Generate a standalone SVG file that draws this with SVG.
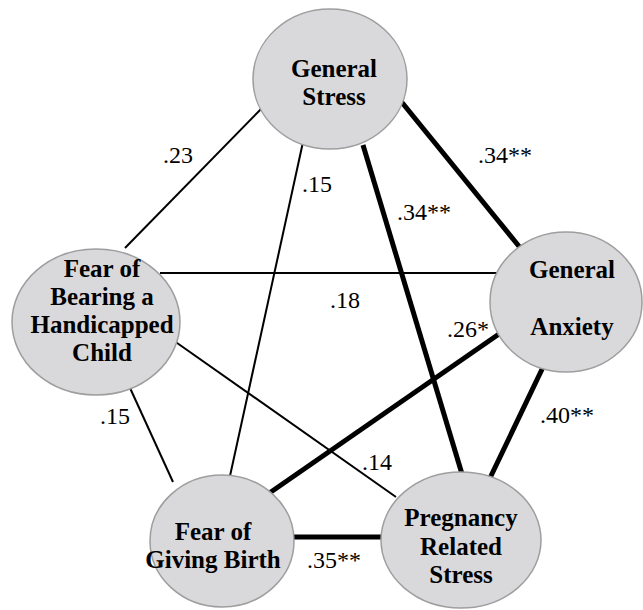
<svg xmlns="http://www.w3.org/2000/svg" width="643" height="610" viewBox="0 0 643 610">
<style>
.thin{stroke:#000;stroke-width:2;fill:none}
.thick{stroke:#000;stroke-width:5;fill:none}
.node{fill:#d9d9dc;stroke:#9e9e9e;stroke-width:1.5}
.nt{font-family:'Liberation Serif','Times New Roman','DejaVu Serif Condensed','DejaVu Serif',serif;font-weight:bold;font-size:25px;fill:#000;text-anchor:middle}
.lb{font-family:'Liberation Serif','Times New Roman','DejaVu Serif Condensed','DejaVu Serif',serif;font-size:24px;fill:#000}
</style>
<rect width="643" height="610" fill="#fff"/>
<g id="connectors">
<line class="thin" x1="262" y1="108" x2="125" y2="248"/>
<line class="thin" x1="303" y1="142" x2="230" y2="476"/>
<line class="thick" x1="363" y1="145" x2="462" y2="474"/>
<line class="thick" x1="400" y1="100" x2="522" y2="250"/>
<line class="thin" x1="160" y1="273" x2="500" y2="273"/>
<line class="thin" x1="170" y1="338" x2="396" y2="497"/>
<line class="thin" x1="125" y1="377" x2="173" y2="482"/>
<line class="thick" x1="268" y1="494" x2="499" y2="334"/>
<line class="thick" x1="545" y1="363" x2="490" y2="478"/>
<line class="thick" x1="290" y1="537" x2="384" y2="537"/>
</g>
<g id="labels">
<text class="lb" x="163" y="163">.23</text>
<text class="lb" x="302" y="192">.15</text>
<text class="lb" x="397" y="220">.34**</text>
<text class="lb" x="478" y="163">.34**</text>
<text class="lb" x="330" y="308">.18</text>
<text class="lb" x="447" y="337">.26*</text>
<text class="lb" x="540" y="423">.40**</text>
<text class="lb" x="362" y="470">.14</text>
<text class="lb" x="100" y="424">.15</text>
<text class="lb" x="307" y="568">.35**</text>
</g>
<g id="general-stress">
<ellipse class="node" cx="330" cy="79" rx="77" ry="70"/>
<text class="nt" x="334" y="77">General</text>
<text class="nt" x="334" y="105">Stress</text>
</g>
<g id="fear-handicapped">
<ellipse class="node" cx="96" cy="322" rx="84" ry="73"/>
<text class="nt" x="102" y="277">Fear of</text>
<text class="nt" x="102" y="305">Bearing a</text>
<text class="nt" x="102" y="333">Handicapped</text>
<text class="nt" x="102" y="361">Child</text>
</g>
<g id="general-anxiety">
<ellipse class="node" cx="566" cy="302" rx="76" ry="70"/>
<text class="nt" x="572" y="278">General</text>
<text class="nt" x="572" y="335">Anxiety</text>
</g>
<g id="fear-birth">
<ellipse class="node" cx="222" cy="541" rx="72" ry="66"/>
<text class="nt" x="213" y="540">Fear of</text>
<text class="nt" x="213" y="568">Giving Birth</text>
</g>
<g id="pregnancy-stress">
<ellipse class="node" cx="461" cy="540" rx="80" ry="68"/>
<text class="nt" x="461" y="526">Pregnancy</text>
<text class="nt" x="461" y="555">Related</text>
<text class="nt" x="461" y="583">Stress</text>
</g>
</svg>
